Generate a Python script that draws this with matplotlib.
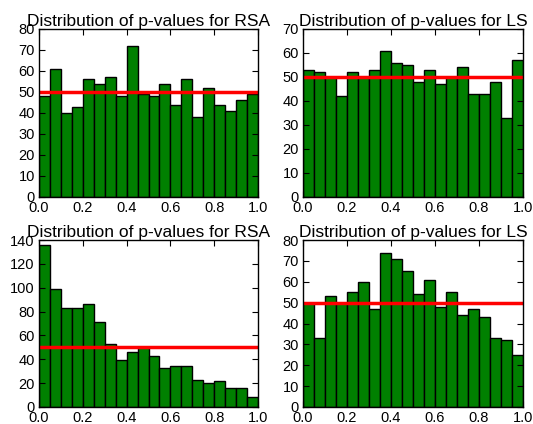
import matplotlib
matplotlib.use("Agg")
import matplotlib.pyplot as plt
import numpy as np

plt.rcParams['font.family'] = ['Liberation Sans', 'DejaVu Sans']

edges = np.linspace(0, 1, 21)
rsa_top = [48, 61, 40, 43, 56, 54, 57, 48, 72, 49, 48, 54, 44, 56, 38, 52, 44, 41, 46, 49]
ls_top = [53, 52, 50, 42, 52, 50, 53, 61, 56, 55, 48, 53, 47, 50, 54, 43, 43, 48, 33, 57]
rsa_bot = [136, 99, 83, 83, 86, 71, 53, 39, 46, 50, 43, 33, 34, 34, 23, 20, 22, 16, 16, 8]
ls_bot = [50, 33, 53, 50, 55, 60, 47, 74, 71, 65, 54, 61, 48, 55, 44, 47, 43, 33, 32, 25]
titles = ["Distribution of p-values for RSA", "Distribution of p-values for LS",
          "Distribution of p-values for RSA", "Distribution of p-values for LS"]
ylims = [(0, 80, 10), (0, 70, 10), (0, 140, 20), (0, 80, 10)]
expected = 50
series = [rsa_top, ls_top, rsa_bot, ls_bot]

fig = plt.figure(figsize=(5.33, 4.24), dpi=100, facecolor='white')
W, H = 533, 424
boxes = [(39, 29, 258, 197), (303, 29, 523, 197), (39, 240, 258, 407), (303, 240, 523, 407)]

for vals, title, (y0, y1, step), (l, t, r, b) in zip(series, titles, ylims, boxes):
    ax = fig.add_axes([l / W, 1 - b / H, (r - l) / W, (b - t) / H])
    ax.bar(edges[:-1], vals, width=np.diff(edges), align='edge',
           color='green', edgecolor='black', linewidth=1.0)
    ax.axhline(expected, color='red', linewidth=2.5)
    ax.set_xlim(0, 1)
    ax.set_ylim(y0, y1)
    ax.set_yticks(np.arange(y0, y1 + 1, step))
    ax.set_xticks(np.linspace(0, 1, 6))
    ax.set_xticklabels([f"{v:.1f}" for v in np.linspace(0, 1, 6)])
    ax.tick_params(direction='in', top=True, right=True, labelsize=10.5, length=4, pad=3)
    ax.set_title(title, fontsize=12.5, pad=2)
    for s in ax.spines.values():
        s.set_linewidth(1.0)

fig.savefig("out.png", dpi=100, facecolor='white')
